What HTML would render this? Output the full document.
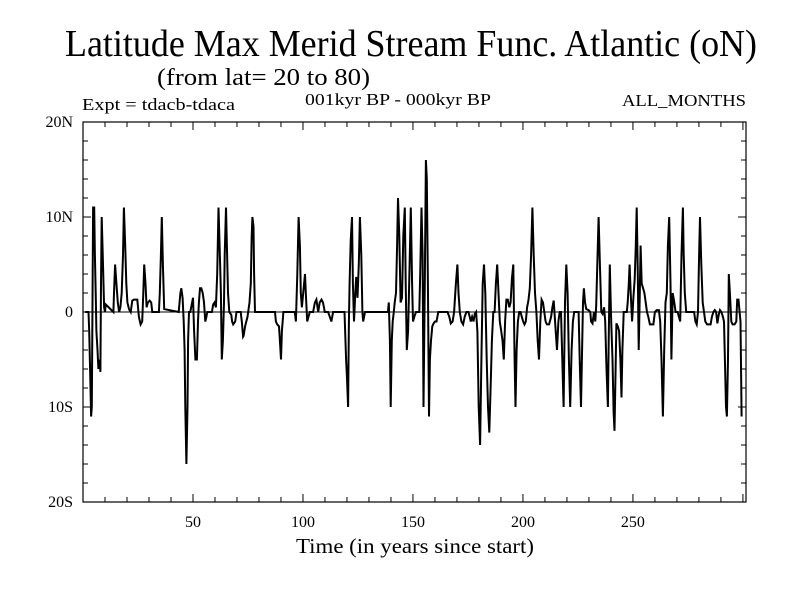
<!DOCTYPE html>
<html><head><meta charset="utf-8"><style>
html,body{margin:0;padding:0;background:#fff;}
svg{display:block;}
text{font-family:"Liberation Serif",serif;fill:#000;}
</style></head><body>
<svg id="chart" width="800" height="600" viewBox="0 0 800 600">
<text x="65" y="56" font-size="38" textLength="692" lengthAdjust="spacingAndGlyphs">Latitude Max Merid Stream Func. Atlantic (oN)</text>
<text x="157" y="85" font-size="24" textLength="213" lengthAdjust="spacingAndGlyphs">(from lat= 20 to 80)</text>
<text x="82" y="110" font-size="17" textLength="153" lengthAdjust="spacingAndGlyphs">Expt = tdacb-tdaca</text>
<text x="305" y="105" font-size="17" textLength="186" lengthAdjust="spacingAndGlyphs">001kyr BP - 000kyr BP</text>
<text x="622" y="106" font-size="17" textLength="124" lengthAdjust="spacingAndGlyphs">ALL_MONTHS</text>
<text x="415" y="553" font-size="21" text-anchor="middle" textLength="238" lengthAdjust="spacingAndGlyphs">Time (in years since start)</text>
<g id="axes"></g>
<g id="series"></g>
</svg>
<script>
const years = [1,2.5,2.8,3.3,3.7,4.0,4.3,4.6,5.1,5.4,5.8,6.1,6.6,7.0,7.6,7.9,8.2,8.5,9.1,9.6,10.0,10.3,13.8,14.1,14.6,15.2,15.8,16.4,17.0,17.6,18.2,18.6,19.2,19.7,20.2,20.9,21.7,22.4,23.2,24.7,25.4,26.2,26.9,27.4,27.8,28.4,28.9,29.5,30.3,31.0,31.5,34.5,34.9,35.4,35.8,36.3,36.9,43.5,44.3,44.7,45.3,45.8,46.2,46.5,47.0,47.5,47.8,48.2,48.8,49.6,50.0,50.5,51.1,51.8,52.3,52.7,53.2,53.8,54.4,55.0,55.6,56.1,56.5,57.1,58.6,59.2,59.8,60.4,61.0,61.6,62.1,62.7,63.1,63.6,64.1,64.4,65.0,65.4,65.9,66.5,67.4,67.8,68.3,69.2,69.8,70.7,71.7,72.2,72.8,
73.0,73.7,74.8,75.7,76.3,76.7,77.0,77.5,77.8,78.2,87.3,87.7,88.3,89.1,89.5,90.0,90.4,91.1,96.3,96.8,97.4,98.0,98.6,99.0,99.5,100.1,100.9,101.3,101.9,102.5,103.1,104.6,105.4,106.1,106.9,107.6,108.4,109.1,109.9,111.4,112.2,112.9,113.7,118.9,119.6,120.0,120.5,120.9,121.2,121.7,122.3,122.7,123.2,123.8,124.2,124.8,125.4,125.9,126.5,127.0,127.4,128.2,138.6,139.0,139.5,139.9,140.4,140.8,141.3,141.7,142.3,142.8,143.2,143.8,144.4,145.0,145.6,146.3,146.7,147.2,147.8,148.4,149.0,149.6,
150.0,150.6,151.4,152.9,153.3,153.9,154.4,154.8,155.4,155.9,156.3,156.8,157.3,157.7,158.2,158.8,159.4,160.0,160.7,161.5,165.7,166.5,167.2,168.0,168.7,169.5,170.2,170.7,171.3,172.0,172.8,173.5,174.3,175.2,175.8,176.3,176.9,177.5,178.1,178.7,179.3,179.9,180.5,181.1,181.7,182.3,182.9,183.5,184.1,184.7,185.3,185.9,186.5,187.1,187.7,188.3,188.9,189.5,190.1,190.7,191.3,191.9,192.5,193.1,193.8,194.4,195.0,195.6,196.2,196.6,197.1,197.7,198.3,198.9,199.5,200.1,200.7,201.3,201.9,202.5,203.1,203.7,204.3,204.9,205.5,206.1,206.7,207.3,207.9,208.5,209.1,209.7,210.3,210.9,211.9,212.8,213.4,214.0,214.9,215.5,216.1,216.7,217.3,217.9,218.5,219.1,219.7,220.3,220.9,221.5,222.1,222.7,223.3,224.5,
225.3,225.8,226.4,226.8,227.3,227.7,228.2,228.8,229.8,230.6,231.0,231.6,232.3,232.9,233.3,233.8,234.4,235.0,235.6,236.2,236.9,237.4,238.0,238.6,239.0,239.5,240.1,240.7,241.2,241.6,242.1,242.5,243.1,243.7,244.3,244.8,245.2,245.8,247.2,247.6,248.1,248.5,249.0,249.6,250.2,250.8,251.3,251.7,252.2,252.6,253.1,253.5,254.0,254.6,255.2,255.8,256.4,257.0,257.7,259.3,260.0,260.8,261.8,262.4,263.0,263.6,264.2,264.8,265.4,265.9,266.5,267.1,267.5,268.1,268.8,269.4,270.3,270.9,271.5,272.1,272.7,273.1,273.6,274.2,277.8,278.4,279.0,279.6,280.1,280.5,281.1,281.7,282.3,282.9,283.7,284.4,285.3,285.9,286.6,287.2,287.8,288.4,289.0,289.6,290.2,290.9,291.4,291.8,292.3,292.7,293.2,293.6,294.1,294.7,295.3,296.2,297.0,297.4,298.0,298.5,298.9,299.4];
const latValues = [0,0,-2,-7,-11,-10,1,11,11,6,1.5,-2,-4,-6,-5,-6.3,3,10,5,0.5,0,0.8,0,2,5,3,1,0,0.5,2,6,11,7,3,1,0.3,0,1.2,1.3,1.3,-0.5,-1.3,-1,2,5,3,0.5,1,1.2,1,0,0,2,6,10,5,0.3,0,2,2.5,1.5,-1,-4,-10,-16,-10,-3,0,0,1,1.5,-2,-5,-5,-1,1,2.5,2.5,2,1,-1,-0.5,0,0,0,0.8,1,0.5,4,11,7,2,-5,-3,1,6,11,7,2,0,-0.3,-1,-1.3,-1,0,0,0,-1,-2.6,
-2.5,-1.5,-0.5,1,3,8,10,9,4,0,0,-1,-1.3,-1.5,-3,-5,-2,0,0,-1,4,10,7,2,0.5,2,4,2,-1,-0.5,0,0,1,1.3,0,1,1.3,1,0,0,-0.5,-1,0,0,-5,-7,-10,-1,3,7.5,10,3,-1,2,3.7,1.5,5,10,6,0,-1,0,0,1,-3,-10,-3,-1,0,1,2,7,12,8,1,1.5,8,11,3,-4,-2,4,11,3,
-1,-0.5,0,0,4,11,6,-10,3,16,14,3,-11,-5,-3,-1.5,-1.2,-1,-1,0,0,-0.5,-1.2,-1,0,3,5,2,0,-1,-1.3,-0.5,0,0,-0.5,-1,-0.5,-1,-0.2,0,-2,-10,-14,-5,3,5,2,-5,-10,-12.7,-8,-3,0,0,3,5,2,-1,-2,-3,-5,-1,1.3,1.3,0.5,1,3.5,5,-5,-10,-4,-1,0,0,-0.5,-1,-1.3,-1,0.5,1.2,2.5,6,11,6,2,0,-3,-5,-1,1.3,1,0,-1,-1.3,-1.3,-0.5,0.5,1.2,-2,-4,-1,0,0,-5,-10,1,5,2,-5,-10,-4,-1,0,0,
0,-5,-10,-5,1,2.5,1,0.3,0.2,0,-1,-1.2,0,-1,0.7,5,10,5,0,-0.2,0.5,-1,-6,-10,-3,5,-1,-5,-10.5,-12.5,-6,-1.2,-1.5,-2,-5,-9,-4,0,0,1,3,5,2,-1,1.5,3.5,7,11,4,-4,2,7,3,2.5,2,1,0,-0.5,-1.3,-1.3,0,0.2,0.2,-1,-5,-11,-4,1,2,7,10,3,-5,2,1,0,0,-0.5,-1,6,11,6,2,0,0,-1,-1.3,0,6,10,5,1,0,-1,-1.3,-1.3,-1.3,-0.5,0,0.2,0,-1.2,-0.3,0.2,0,-0.5,-1,-5,-10,-11,-5,4,2,-1,-1.3,-1.3,-1,1.3,1.3,0,-1,-11];
const xTicks = [50,100,150,200,250];
const xTickLabels = ["50","100","150","200","250"];
const yTicks = [20,10,0,-10,-20];
const yTickLabels = ["20N","10N","0","10S","20S"];

const X0=83, X1=746, Y0=122, Y1=502, XMIN=0, XMAX=301.4, YMIN=-20, YMAX=20;
function xScale(v){return X0+(v-XMIN)/(XMAX-XMIN)*(X1-X0);}
function yScale(v){return Y1-(v-YMIN)/(YMAX-YMIN)*(Y1-Y0);}
const NS='http://www.w3.org/2000/svg';
function mk(tag,attrs,parent){const e=document.createElementNS(NS,tag);for(const k in attrs)e.setAttribute(k,attrs[k]);parent.appendChild(e);return e;}
const axes=document.getElementById('axes');
const frame=mk('rect',{x:X0,y:Y0,width:X1-X0,height:Y1-Y0,fill:'none',stroke:'#000','stroke-width':1.2},axes);


const zero=mk('line',{x1:X0,x2:X1,y1:yScale(0),y2:yScale(0),stroke:'#000','stroke-width':1},axes);


for(let t=10;t<XMAX;t+=10){
  const major=(t%50===0);const L=major?8:5;const x=xScale(t);
  const tb=mk('line',{x1:x,x2:x,y1:Y1,y2:Y1-L,stroke:'#000','stroke-width':1},axes);
  
  
  const tt=mk('line',{x1:x,x2:x,y1:Y0,y2:Y0+L,stroke:'#000','stroke-width':1},axes);
  
  
}
for(let v=-18;v<20;v+=2){
  const major=(v%10===0);const L=major?8:5;const y=yScale(v);
  const tl=mk('line',{x1:X0,x2:X0+L,y1:y,y2:y,stroke:'#000','stroke-width':1},axes);
  
  
  const tr=mk('line',{x1:X1,x2:X1-L,y1:y,y2:y,stroke:'#000','stroke-width':1},axes);
  
  
}
xTicks.forEach((t,i)=>{
  const e=mk('text',{x:xScale(t),y:527,'font-size':16,'text-anchor':'middle'},axes);
  e.textContent=xTickLabels[i];
  
  
});
yTicks.forEach((t,i)=>{
  const e=mk('text',{x:73,y:yScale(t)+5,'font-size':16,'text-anchor':'end'},axes);
  e.textContent=yTickLabels[i];
  
  
});
let d='';
years.forEach((yr,i)=>{d+=(i?'L':'M')+xScale(yr).toFixed(1)+' '+yScale(latValues[i]).toFixed(1);});
const line=mk('path',{d:d,fill:'none',stroke:'#000','stroke-width':2,'stroke-linejoin':'miter'},document.getElementById('series'));


</script>
</body></html>
